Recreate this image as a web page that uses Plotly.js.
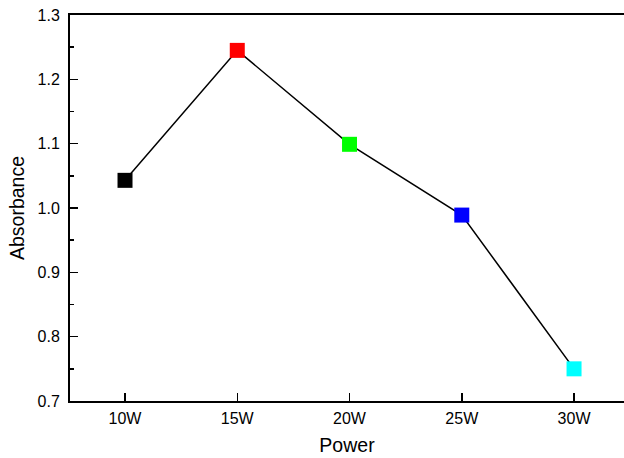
<!DOCTYPE html>
<html>
<head>
<meta charset="utf-8">
<script src="https://cdn.plot.ly/plotly-3.0.1.min.js"></script>
<style>html,body{margin:0;padding:0;background:#fff;}#chart{width:624px;height:458px;}</style>
</head>
<body>
<div id="chart"></div>
<script>
const categories = ["10W", "15W", "20W", "25W", "30W"];
const absorbance = [1.043, 1.245, 1.099, 0.989, 0.750];
const markerColors = ["#000000", "#ff0000", "#00ff00", "#0000ff", "#00ffff"];
const yTickVals = [0.7, 0.8, 0.9, 1.0, 1.1, 1.2, 1.3];
const yTickText = ["0.7", "0.8", "0.9", "1.0", "1.1", "1.2", "1.3"];

const font = "Arial, 'Liberation Sans', sans-serif";
const trace = {
  x: categories,
  y: absorbance,
  type: "scatter",
  mode: "lines+markers",
  line: {color: "#000000", width: 1.5},
  marker: {symbol: "square", size: 15, color: markerColors, line: {width: 0}},
  showlegend: false,
  hoverinfo: "x+y"
};
const layout = {
  width: 624, height: 458,
  margin: {l: 70, r: 0, t: 15, b: 57},
  paper_bgcolor: "#ffffff", plot_bgcolor: "#ffffff",
  font: {family: font, color: "#000000"},
  xaxis: {
    type: "category",
    range: [-0.49, 4.445],
    showgrid: false, zeroline: false,
    showline: true, linecolor: "#000000", linewidth: 2, mirror: true,
    ticks: "inside", ticklen: 8, tickwidth: 1.5, tickcolor: "#000000",
    tickfont: {size: 16, family: font},
    ticklabelstandoff: 2,
    title: {text: "Power", font: {size: 19.5, family: font}, standoff: 12}
  },
  yaxis: {
    range: [0.7, 1.3],
    tickvals: yTickVals, ticktext: yTickText,
    showgrid: false, zeroline: false,
    showline: true, linecolor: "#000000", linewidth: 2, mirror: false,
    ticks: "inside", ticklen: 8, tickwidth: 1.5, tickcolor: "#000000",
    tickfont: {size: 16, family: font},
    ticklabelstandoff: 5,
    minor: {dtick: 0.05, ticks: "inside", ticklen: 4, tickwidth: 1.5, tickcolor: "#000000", showgrid: false},
    title: {text: "Absorbance", font: {size: 19.5, family: font}, standoff: 8}
  }
};
Plotly.newPlot("chart", [trace], layout, {displayModeBar: false, staticPlot: true});
</script>
</body>
</html>
